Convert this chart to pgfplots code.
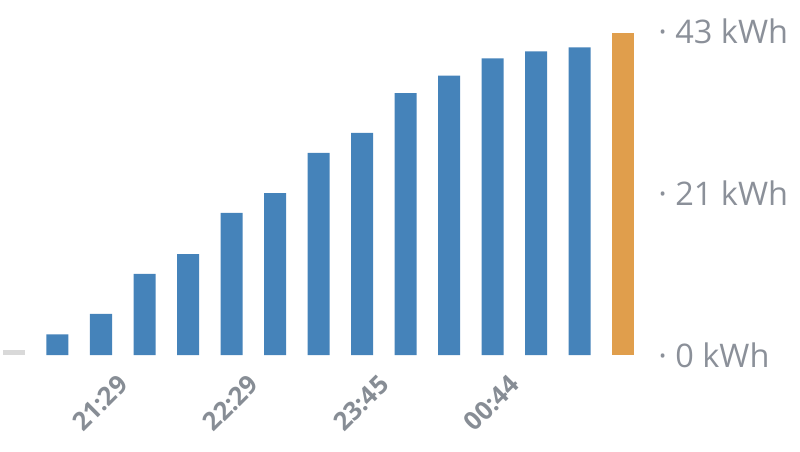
\documentclass[border=0pt]{standalone}
\usepackage{fontspec}
\setmainfont{Open Sans}
\usepackage{pgfplots}
\usepackage{pgfplotstable}
\pgfplotsset{compat=1.18}
\definecolor{barblue}{HTML}{4583BA}
\definecolor{barorange}{HTML}{E09E4C}
\definecolor{bargray}{HTML}{D9D9D9}
\definecolor{labgray}{HTML}{8B9099}
\definecolor{xlabgray}{HTML}{878D95}
\pgfplotstableread{
x y
0 0.66
}\graydata
\pgfplotstableread{
x y
1 2.75
2 5.45
3 10.76
4 13.41
5 18.86
6 21.51
7 26.83
8 29.48
9 34.79
10 37.09
11 39.40
12 40.33
13 40.86
}\bluedata
\pgfplotstableread{
x y
14 42.80
}\orangedata
\begin{document}
\begin{tikzpicture}[x=1pt,y=1pt]
\path[use as bounding box] (0,0) rectangle (800,451);
\begin{axis}[
  at={(0pt,96pt)}, anchor=south west,
  width=644.75pt, height=355pt, scale only axis,
  xmin=-0.3218, xmax=14.5, ymin=0, ymax=47.14,
  axis line style={draw=none},
  major tick length=0pt,
  ytick={0,21.5,43},
  yticklabels={· 0 kWh,· 21 kWh,· 43 kWh},
  yticklabel pos=right,
  yticklabel style={anchor=west, xshift=10pt, text=labgray, font=\fontsize{32.5}{38}\selectfont},
  xtick={3,6,9,12},
  xticklabels={21:29,22:29,23:45,00:44},
  xticklabel style={xshift=-28pt, yshift=-13.5pt, rotate=45, anchor=north east, text=xlabgray, font=\fontsize{25.5}{30}\selectfont\bfseries},
  ybar, bar width=22pt,
  clip=false,
]
\addplot[fill=bargray, draw=none, bar shift=0pt] table[x=x,y=y] {\graydata};
\addplot[fill=barblue, draw=none, bar shift=0pt] table[x=x,y=y] {\bluedata};
\addplot[fill=barorange, draw=none, bar shift=0pt] table[x=x,y=y] {\orangedata};
\end{axis}
\end{tikzpicture}
\end{document}
